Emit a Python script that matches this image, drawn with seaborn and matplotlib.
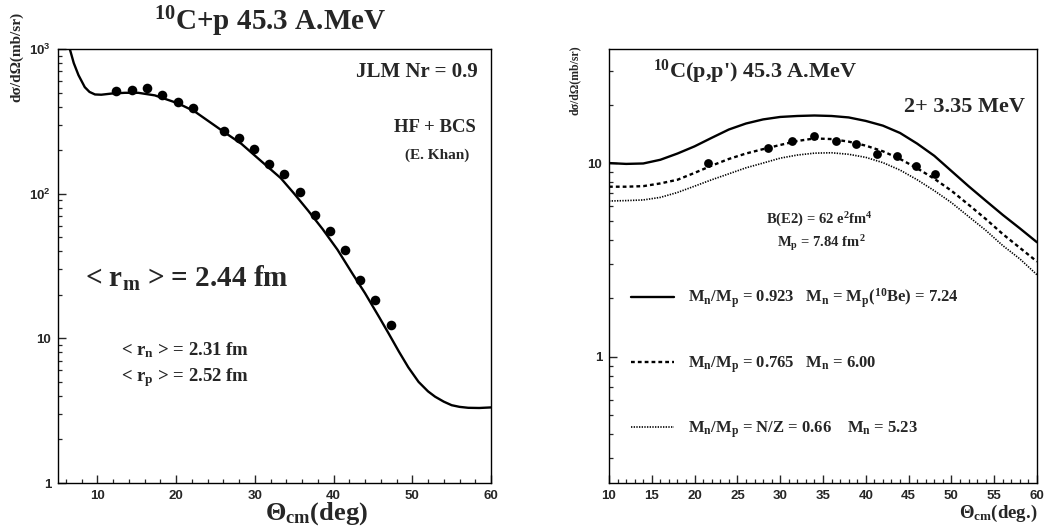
import numpy as np
import pandas as pd
import matplotlib
matplotlib.use("Agg")
import matplotlib.pyplot as plt
import seaborn as sns
from matplotlib.ticker import MultipleLocator, LogLocator, FixedLocator, FuncFormatter, NullFormatter

# ---------------- data ----------------
# Left panel: 10C+p elastic
theta_fit_l = [6.0, 6.5, 7.0, 7.6, 8.4, 9.0, 9.7, 10.5, 11.8, 13.5, 15.2, 17.3, 20.2, 22.3,
               25.7, 28.3, 30.8, 33.3, 35.0, 36.8, 38.6, 40.5, 42.4, 44.0, 45.8, 47.0,
               48.3, 49.5, 50.8, 52.0, 52.9, 54.0, 55.0, 56.0, 57.1, 58.5, 60.0]
sigma_fit_l = [1400, 1000, 800, 660, 545, 505, 485, 483, 492, 498, 498, 478, 422, 372,
               276, 221, 168, 128, 100, 76, 57, 41, 28, 20.5, 14.0, 10.8,
               8.1, 6.3, 5.0, 4.3, 3.95, 3.65, 3.45, 3.36, 3.31, 3.30, 3.33]
theta_exp_l = [12.4, 14.4, 16.35, 18.25, 20.2, 22.1, 26.05, 27.95, 29.85, 31.8, 33.7,
               35.7, 37.7, 39.6, 41.5, 43.4, 45.3, 47.3]
sigma_exp_l = [515, 520, 535, 483, 433, 388, 269, 242, 204, 161, 136,
               103, 71, 55, 40.5, 25.5, 18.3, 12.4]

# Right panel: 10C(p,p') 2+ inelastic
theta_fit_r = [10, 12, 14, 16, 18, 20, 22, 24, 26, 28, 30, 32, 34, 36, 38, 40, 42, 44,
               46, 48, 50, 52, 54, 56, 58, 60]
sigma_solid = [10.0, 9.9, 9.95, 10.4, 11.2, 12.2, 13.5, 14.9, 16.0, 16.8, 17.3, 17.5,
               17.6, 17.5, 17.2, 16.5, 15.6, 14.3, 12.6, 10.9, 9.1, 7.6, 6.4, 5.4, 4.6, 3.9]
sigma_dashed = [7.55, 7.55, 7.6, 7.85, 8.2, 8.9, 9.7, 10.5, 11.2, 11.8, 12.4, 13.0,
                13.4, 13.3, 12.9, 12.3, 11.5, 10.5, 9.4, 8.3, 7.2, 6.1, 5.15, 4.3, 3.65, 3.1]
sigma_dotted = [6.37, 6.4, 6.45, 6.65, 7.05, 7.6, 8.2, 8.8, 9.45, 10.0, 10.6, 11.0,
                11.25, 11.3, 11.1, 10.7, 10.05, 9.2, 8.2, 7.2, 6.25, 5.3, 4.5, 3.75, 3.2, 2.65]
theta_exp_r = [21.6, 28.6, 31.4, 34.0, 36.5, 38.9, 41.3, 43.6, 45.9, 48.1]
sigma_exp_r = [10.0, 12.0, 13.0, 13.8, 13.0, 12.6, 11.2, 10.9, 9.6, 8.8]

labels_r = [r"M$_n$/M$_p$ = 0.923   M$_n$ = M$_p$($^{10}$Be) = 7.24",
            r"M$_n$/M$_p$ = 0.765   M$_n$ = 6.00",
            r"M$_n$/M$_p$ = N/Z = 0.66    M$_n$ = 5.23"]

# ---------------- style ----------------
sns.set_style("white")
plt.rcParams["font.family"] = ["Liberation Serif", "DejaVu Serif"]
plt.rcParams["font.weight"] = "bold"
plt.rcParams["mathtext.default"] = "regular"
plt.rcParams["axes.edgecolor"] = "black"
plt.rcParams["axes.linewidth"] = 1.0

W, H = 1052, 530
fig = plt.figure(figsize=(W / 100, H / 100), dpi=100)


def P(x, y):
    return x / W, 1 - y / H


axL = fig.add_axes([58 / W, 1 - 483 / H, 433 / W, 434 / H])
axR = fig.add_axes([609 / W, 1 - 483 / H, 428 / W, 434 / H])

tickfont = {"family": "Liberation Sans", "weight": "bold", "size": 9.5}

# ---------------- left panel ----------------
dfL = pd.DataFrame({"theta": theta_fit_l, "sigma": sigma_fit_l})
dfLe = pd.DataFrame({"theta": theta_exp_l, "sigma": sigma_exp_l})
sns.lineplot(data=dfL, x="theta", y="sigma", ax=axL, color="black", lw=1.7,
             sort=False, estimator=None)
sns.scatterplot(data=dfLe, x="theta", y="sigma", ax=axL, color="black", s=48,
                edgecolor="black", linewidth=0, zorder=3)
axL.set_yscale("log")
axL.set_xlim(5, 60)
axL.set_ylim(1, 1000)
axL.set_xlabel("")
axL.set_ylabel("")
axL.xaxis.set_major_locator(MultipleLocator(10))
axL.xaxis.set_minor_locator(MultipleLocator(2))
axL.yaxis.set_major_locator(FixedLocator([1, 10, 100, 1000]))
axL.yaxis.set_minor_locator(LogLocator(base=10, subs=np.arange(2, 10)))
axL.yaxis.set_minor_formatter(NullFormatter())
ylab_map = {1: "1", 10: "10", 100: r"10$^{2}$", 1000: r"10$^{3}$"}
axL.yaxis.set_major_formatter(FuncFormatter(lambda v, p: ylab_map.get(int(round(v)), "")))

# ---------------- right panel ----------------
dfR = pd.DataFrame({"theta": theta_fit_r, "solid": sigma_solid,
                    "dashed": sigma_dashed, "dotted": sigma_dotted})
dfRe = pd.DataFrame({"theta": theta_exp_r, "sigma": sigma_exp_r})
sns.lineplot(data=dfR, x="theta", y="solid", ax=axR, color="black", lw=1.7,
             sort=False, estimator=None, label=labels_r[0])
sns.lineplot(data=dfR, x="theta", y="dashed", ax=axR, color="black", lw=1.7,
             linestyle=(0, (1.6, 1.3)), sort=False, estimator=None, label=labels_r[1])
sns.lineplot(data=dfR, x="theta", y="dotted", ax=axR, color="black", lw=1.2,
             linestyle=(0, (0.8, 0.8)), sort=False, estimator=None, label=labels_r[2])
sns.scatterplot(data=dfRe, x="theta", y="sigma", ax=axR, color="black", s=40,
                edgecolor="black", linewidth=0, zorder=3)
axR.set_yscale("log")
axR.set_xlim(10, 60)
axR.set_ylim(0.223, 38.8)
axR.set_xlabel("")
axR.set_ylabel("")
axR.xaxis.set_major_locator(MultipleLocator(5))
axR.xaxis.set_minor_locator(MultipleLocator(1))
axR.yaxis.set_major_locator(FixedLocator([1, 10]))
axR.yaxis.set_minor_locator(LogLocator(base=10, subs=np.arange(2, 10)))
axR.yaxis.set_minor_formatter(NullFormatter())
axR.yaxis.set_major_formatter(FuncFormatter(lambda v, p: "%d" % round(v)))

handles, _ = axR.get_legend_handles_labels()
leg = axR.legend(handles=handles[:3], labels=labels_r, loc="upper left",
                 bbox_to_anchor=((631 - 609) / 428, (483 - 287) / 434),
                 frameon=False, borderpad=0, borderaxespad=0,
                 handlelength=2.6, handletextpad=0.8, labelspacing=2.65,
                 prop={"family": "Liberation Serif", "weight": "bold", "size": 12})

for ax in (axL, axR):
    ax.tick_params(axis="both", which="major", direction="in", length=6, width=1,
                   left=True, bottom=True, top=False, right=False, pad=5)
    ax.tick_params(axis="both", which="minor", direction="in", length=3, width=0.9,
                   left=True, bottom=True, top=False, right=False)
    for lab in ax.get_xticklabels() + ax.get_yticklabels():
        lab.set_fontfamily(tickfont["family"])
        lab.set_fontweight(tickfont["weight"])
        lab.set_fontsize(tickfont["size"])
    for s in ax.spines.values():
        s.set_visible(True)
        s.set_color("black")

# ---------------- texts ----------------
fig.text(*P(270, 22), r"$^{10}$C+p 45.3 A.MeV", ha="center", va="center", fontsize=21, fontweight="bold")
fig.text(*P(478, 72), "JLM Nr = 0.9", ha="right", va="center", fontsize=15, fontweight="bold")
fig.text(*P(476, 128), "HF + BCS", ha="right", va="center", fontsize=13.5, fontweight="bold")
fig.text(*P(437, 155), "(E. Khan)", ha="center", va="center", fontsize=11, fontweight="bold")
fig.text(*P(85, 278), r"< r$_{m}$ > = 2.44 fm", ha="left", va="center", fontsize=21, fontweight="bold")
fig.text(*P(121, 350), r"< r$_{n}$ > = 2.31 fm", ha="left", va="center", fontsize=13.5, fontweight="bold")
fig.text(*P(121, 378), r"< r$_{p}$ > = 2.52 fm", ha="left", va="center", fontsize=13.5, fontweight="bold")
fig.text(*P(265, 514), r"Θ$_{cm}$(deg)", ha="left", va="center", fontsize=19, fontweight="bold")
fig.text(*P(17, 57), "dσ/dΩ(mb/sr)", ha="center", va="center", rotation=90, fontsize=11, fontweight="bold")

fig.text(*P(653, 72), r"$^{10}$C(p,p') 45.3 A.MeV", ha="left", va="center", fontsize=16, fontweight="bold")
fig.text(*P(1025, 107), "2+ 3.35 MeV", ha="right", va="center", fontsize=16, fontweight="bold")
fig.text(*P(819, 220), r"B(E2) = 62 e$^{2}$fm$^{4}$", ha="center", va="center", fontsize=10.5, fontweight="bold")
fig.text(*P(821, 243), r"M$_{p}$ = 7.84 fm$^{2}$", ha="center", va="center", fontsize=10.5, fontweight="bold")
fig.text(*P(1037, 513), r"Θ$_{cm}$(deg.)", ha="right", va="center", fontsize=13.5, fontweight="bold")
fig.text(*P(575, 80), "dσ/dΩ(mb/sr)", ha="center", va="center", rotation=90, fontsize=8.5, fontweight="bold")

fig.savefig("out.png", dpi=100)
